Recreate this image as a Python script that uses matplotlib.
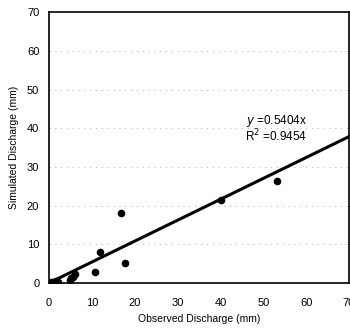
import matplotlib
matplotlib.use("Agg")
import matplotlib.pyplot as plt
import numpy as np

plt.rcParams['font.family'] = ['Liberation Sans', 'DejaVu Sans']

observed = [0.2, 0.5, 0.8, 1.0, 1.3, 1.6, 2.0, 4.8, 5.2, 5.5, 6.0, 10.7, 11.9, 16.9, 17.8, 40.2, 53.3]
simulated = [0.1, 0.2, 0.0, 0.3, 0.1, 0.4, 0.2, 0.8, 1.2, 1.5, 2.2, 2.9, 7.9, 18.2, 5.1, 21.4, 26.4]
slope = 0.5404
r2 = 0.9454
ticks = [0, 10, 20, 30, 40, 50, 60, 70]

fig = plt.figure(figsize=(3.5, 3.29), dpi=100)
ax = fig.add_axes([0.14, 0.14, 0.857, 0.823])

for yv in ticks[1:-1]:
    ax.axhline(yv, color='#999999', lw=0.6, ls=(0, (1, 6)), zorder=0)

xl = np.array([0, 70])
ax.plot(xl, slope * xl, color='black', lw=2.2, zorder=2)
ax.scatter(observed, simulated, s=20, color='black', zorder=3)

ax.set_xlim(0, 70)
ax.set_ylim(0, 70)
ax.set_xticks(ticks)
ax.set_yticks(ticks)
ax.tick_params(length=0, labelsize=8)
ax.tick_params(axis='x', pad=11)
ax.tick_params(axis='y', pad=7)
for s in ax.spines.values():
    s.set_linewidth(1.2)

ax.text(53, 41.2, r'$\it{y}$ =0.5404x', fontsize=8.5, ha='center', va='baseline')
ax.text(53, 36.5, r'R$^2$ =0.9454', fontsize=8.5, ha='center', va='baseline')

ax.set_xlabel('Observed Discharge (mm)', fontsize=7.5, labelpad=4)
ax.set_ylabel('Simulated Discharge (mm)', fontsize=7.5, labelpad=6)

fig.savefig('out.png', dpi=100)
